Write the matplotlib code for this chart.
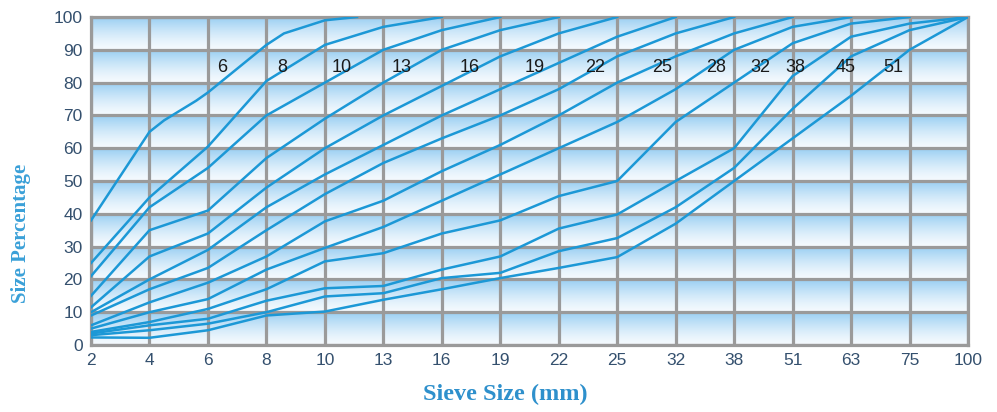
import numpy as np
import matplotlib
matplotlib.use("Agg")
import matplotlib.pyplot as plt

sieves = ["2", "4", "6", "8", "10", "13", "16", "19", "22", "25", "32", "38", "51", "63", "75", "100"]
yticks = [0, 10, 20, 30, 40, 50, 60, 70, 80, 90, 100]

# curve name -> (x positions along the sieve axis, % passing)
names = ["6", "8", "10", "13", "16", "19", "22", "25", "28", "32", "38", "45", "51"]
xs = [
    [0, 1, 1.25, 1.8, 2, 3, 3.3, 4, 4.55],
    list(range(7)),
    list(range(8)),
    list(range(9)),
    list(range(10)),
    list(range(11)),
    list(range(12)),
    list(range(13)),
    list(range(14)),
    list(range(15)),
    list(range(16)),
    list(range(16)),
    list(range(16)),
]
ys = [
    [38, 65, 68.5, 74.5, 77, 91.5, 95, 99, 100],
    [25, 45, 60.5, 80.5, 91.5, 97, 100],
    [21, 42, 54, 70, 80, 90, 96, 100],
    [15, 35, 41, 57, 69, 80, 90, 96, 100],
    [11.5, 27, 34, 48, 60, 70, 79, 88, 95, 100],
    [10, 20, 29, 42, 52, 61, 70, 78, 86, 94, 100],
    [9, 17, 23.5, 35, 46, 55.5, 63, 70, 78, 88, 95, 100],
    [6, 13, 19, 27, 37.7, 44, 53, 61, 70, 80, 88, 95, 100],
    [5, 10, 14, 23, 29.6, 36, 44, 52, 60, 68, 78, 90, 97, 100],
    [4, 7, 11, 17, 25.5, 28, 34, 38, 45.4, 50, 68, 80, 92, 98, 100],
    [3.5, 6, 8, 13.5, 17.3, 18, 23, 27, 35.5, 39.8, 50, 60, 82, 94, 98, 100],
    [3, 4.5, 6.5, 10, 14.8, 15.8, 20.4, 22, 28.6, 32.6, 42, 54, 72, 88, 96, 100],
    [2.3, 2.2, 4.5, 9, 10.2, 13.8, 17, 20.4, 23.5, 26.8, 37, 50, 63, 76, 90, 100],
]
label_x = [2.24, 3.27, 4.29, 5.32, 6.48, 7.59, 8.62, 9.77, 10.70, 11.44, 12.04, 12.90, 13.72]
label_y = 84.5

line_col = "#1c98d6"
grid_col = "#9a9a9a"
tick_col = "#34506e"

fig = plt.figure(figsize=(9.97, 4.12), dpi=100)
ax = fig.add_axes([0.0913, 0.1626, 0.8796, 0.7961])

# background: every 10% band fades from light blue (top) to white (bottom)
n = 200
t = np.linspace(0, 1, n)
blue = np.array([0.60, 0.81, 0.95])
white = np.array([0.96, 0.98, 0.995])
band = white[None, :] * (1 - t[:, None] ** 1.4) + blue[None, :] * (t[:, None] ** 1.4)
img = np.concatenate([band] * 10, axis=0)[:, None, :]
ax.imshow(img, extent=[0, len(sieves) - 1, 0, 100], origin="lower", aspect="auto", zorder=0)

for i in range(len(names)):
    ax.plot(xs[i], ys[i], color=line_col, lw=1.8, zorder=3, solid_joinstyle="round")
    ax.text(label_x[i], label_y, names[i], fontsize=13, color="#1a1a1a",
            ha="center", va="center", zorder=4, family="Liberation Sans")

ax.set_xlim(0, len(sieves) - 1)
ax.set_ylim(0, 100)
ax.set_xticks(range(len(sieves)))
ax.set_xticklabels(sieves)
ax.set_yticks(yticks)
ax.grid(True, color=grid_col, lw=2.3, zorder=1)
ax.set_axisbelow(False)
for line in ax.get_xgridlines() + ax.get_ygridlines():
    line.set_zorder(1)
for s in ax.spines.values():
    s.set_color(grid_col)
    s.set_linewidth(2.3)
ax.tick_params(length=0, labelsize=12.5, colors=tick_col, pad=6)
for lab in ax.get_xticklabels() + ax.get_yticklabels():
    lab.set_family("Liberation Sans")

ax.set_ylabel("Size Percentage", fontsize=15, fontweight="bold", color="#3aa0d8",
              family="Liberation Serif")
ax.yaxis.set_label_coords(-0.068, 0.34)
ax.set_xlabel("Sieve Size (mm)", fontsize=17.5, fontweight="bold", color="#2e90cc",
              family="Liberation Serif")
ax.xaxis.set_label_coords(0.472, -0.12)

fig.savefig("out.png", dpi=100)
